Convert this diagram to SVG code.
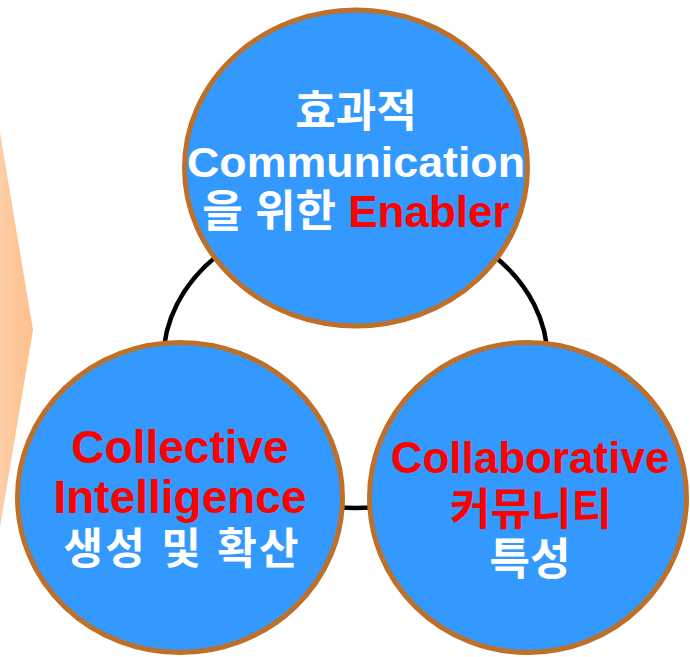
<svg xmlns="http://www.w3.org/2000/svg" width="690" height="657" viewBox="0 0 690 657">
<defs>
<linearGradient id="peach" x1="0" y1="0" x2="1" y2="0">
<stop offset="0" stop-color="#FDD6B8"/>
<stop offset="1" stop-color="#FFC08A"/>
</linearGradient>
<style>
.node{fill:#3399FF;stroke:#BF7028;stroke-width:5}
.t{font-family:"Liberation Sans","Noto Sans CJK KR",sans-serif;font-weight:bold;text-anchor:middle}
.w{fill:#FFFFFF}
.r{fill:#FF0000}
</style>
</defs>
<rect width="690" height="657" fill="#FFFFFF"/>
<polygon points="-20,13 33,330 -20,647" fill="url(#peach)"/>
<g id="connectors">
<ellipse cx="355.5" cy="359" rx="192" ry="149" fill="none" stroke="#000000" stroke-width="4.5"/>
</g>
<g id="node-top">
<ellipse class="node" cx="356" cy="168" rx="171.5" ry="158"/>
<text class="t w" x="356" y="127" font-size="44">효과적</text>
<text class="t w" x="356" y="177" font-size="42" textLength="338" lengthAdjust="spacingAndGlyphs">Communication</text>
<text class="t" x="356" y="227" font-size="44"><tspan class="w">을 위한 </tspan><tspan class="r">Enabler</tspan></text>
</g>
<g id="node-left">
<ellipse class="node" cx="180" cy="497.5" rx="162.5" ry="155"/>
<text class="t r" x="180" y="463" font-size="46">Collective</text>
<text class="t r" x="180" y="513" font-size="46">Intelligence</text>
<text class="t w" x="181" y="564" font-size="43" textLength="235">생성 및 확산</text>
</g>
<g id="node-right">
<ellipse class="node" cx="528" cy="497.5" rx="158.5" ry="155"/>
<text class="t r" x="530" y="473" font-size="44">Collaborative</text>
<text class="t r" x="531" y="525" font-size="44">커뮤니티</text>
<text class="t w" x="530" y="575" font-size="44">특성</text>
</g>
</svg>
